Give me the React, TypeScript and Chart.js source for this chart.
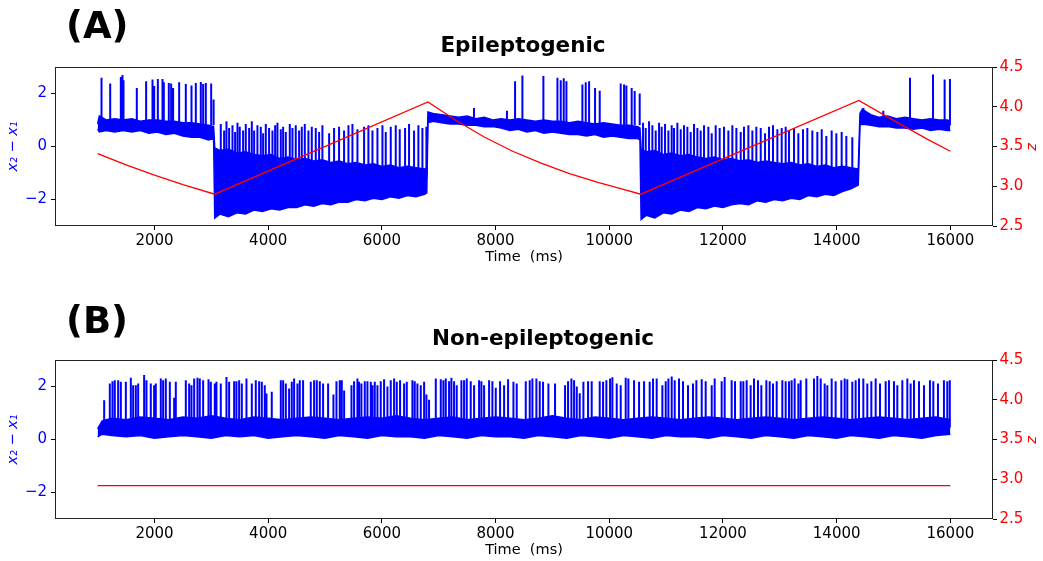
import React, { useEffect, useRef } from 'react';
import { Chart, registerables } from 'chart.js';

Chart.register(...registerables);
Chart.defaults.font.family = "'DejaVu Sans', sans-serif";

// ---------- axes ----------
const xTicks = [2000, 4000, 6000, 8000, 10000, 12000, 14000, 16000];
const yLeftTicks = [-2, 0, 2];
const yRightTicks = [2.5, 3.0, 3.5, 4.0, 4.5];

// ---------- panel A: red z trace [t, z] ----------
const zA: [number, number][] = [
  [1000, 3.41], [1500, 3.27], [2000, 3.14], [2500, 3.02], [3060, 2.9],
  [6810, 4.06], [7300, 3.83], [7800, 3.62], [8300, 3.44], [8800, 3.29], [9300, 3.16], [9800, 3.05], [10200, 2.97], [10554, 2.9],
  [14390, 4.08], [14800, 3.91], [15200, 3.75], [15600, 3.59], [16000, 3.44],
];

// ---------- panel A: noise band of x2-x1 [t, low, high] ----------
const bandA: [number, number, number][] = [
  [1000, 0.65, 0.85], [1030, 0.55, 1.15], [1150, 0.6, 1.0], [1300, 0.55, 1.05], [1450, 0.6, 1.0], [1600, 0.55, 1.05],
  [1750, 0.6, 0.95], [1900, 0.5, 1.0], [2050, 0.55, 1.0], [2200, 0.45, 0.95], [2350, 0.5, 0.95], [2500, 0.4, 0.9],
  [2650, 0.35, 0.9], [2800, 0.35, 0.85], [2950, 0.25, 0.8], [3040, 0.3, 0.75],
  [3060, -2.7, -0.05], [3150, -2.55, -0.15], [3300, -2.65, -0.1], [3450, -2.5, -0.25], [3600, -2.55, -0.2],
  [3750, -2.4, -0.3], [3900, -2.45, -0.35], [4050, -2.35, -0.3], [4200, -2.4, -0.45], [4350, -2.3, -0.4],
  [4500, -2.3, -0.5], [4650, -2.2, -0.45], [4800, -2.25, -0.55], [4950, -2.15, -0.5], [5100, -2.2, -0.6],
  [5250, -2.1, -0.55], [5400, -2.1, -0.65], [5550, -2.0, -0.6], [5700, -2.05, -0.7], [5850, -1.95, -0.65],
  [6000, -2.0, -0.75], [6150, -1.9, -0.7], [6300, -1.95, -0.8], [6450, -1.85, -0.75], [6600, -1.9, -0.8],
  [6750, -1.8, -0.85], [6790, -1.75, -0.8],
  [6810, 0.9, 1.3], [6900, 0.95, 1.25], [7050, 0.9, 1.2], [7200, 0.85, 1.15], [7350, 0.85, 1.1], [7500, 0.8, 1.15],
  [7650, 0.8, 1.05], [7800, 0.75, 1.1], [7950, 0.75, 1.0], [8100, 0.7, 1.05], [8250, 0.6, 1.0], [8400, 0.65, 1.05],
  [8550, 0.55, 1.0], [8700, 0.6, 0.95], [8850, 0.5, 1.0], [9000, 0.55, 0.95], [9150, 0.5, 0.95], [9300, 0.45, 0.9],
  [9450, 0.45, 0.95], [9600, 0.4, 0.9], [9750, 0.45, 0.85], [9900, 0.35, 0.9], [10050, 0.4, 0.85], [10200, 0.35, 0.8],
  [10350, 0.3, 0.8], [10500, 0.3, 0.75], [10540, 0.25, 0.7],
  [10560, -2.75, -0.1], [10650, -2.6, -0.2], [10800, -2.7, -0.15], [10950, -2.5, -0.3], [11100, -2.55, -0.25],
  [11250, -2.4, -0.35], [11400, -2.45, -0.3], [11550, -2.3, -0.4], [11700, -2.35, -0.45], [11850, -2.25, -0.4],
  [12000, -2.3, -0.5], [12150, -2.2, -0.45], [12300, -2.15, -0.55], [12450, -2.2, -0.5], [12600, -2.05, -0.6],
  [12750, -2.1, -0.55], [12900, -2.0, -0.6], [13050, -2.05, -0.65], [13200, -1.95, -0.6], [13350, -2.0, -0.7],
  [13500, -1.85, -0.65], [13650, -1.9, -0.75], [13800, -1.8, -0.7], [13950, -1.85, -0.8], [14100, -1.7, -0.75],
  [14250, -1.6, -0.8], [14380, -1.45, -0.85],
  [14410, 0.8, 1.25], [14450, 0.85, 1.4], [14600, 0.8, 1.2], [14750, 0.75, 1.1], [14900, 0.75, 1.15], [15050, 0.7, 1.05],
  [15200, 0.7, 1.1], [15350, 0.65, 1.05], [15500, 0.7, 1.0], [15650, 0.6, 1.05], [15800, 0.65, 1.0], [15950, 0.6, 1.0],
  [16000, 0.6, 0.95],
];

// ---------- panel A: spikes [t, peak] ----------
const footInterictal = 0.8;
const footIctal = -1.2;

const spikesA1: [number, number][] = [
  [1068, 2.59], [1221, 2.38], [1408, 2.62], [1437, 2.7], [1455, 2.5], [1689, 2.21], [1853, 2.46], [1965, 2.53],
  [1995, 2.28], [2059, 2.55], [2141, 2.55], [2164, 2.42], [2252, 2.4], [2293, 2.38], [2328, 2.21], [2434, 2.42],
  [2551, 2.36], [2651, 2.3], [2727, 2.4], [2815, 2.43], [2856, 2.36], [2903, 2.4], [2997, 2.38], [3040, 1.77],
];
const spikesA2: [number, number][] = [
  [3166, 0.85], [3225, 0.6], [3266, 0.95], [3313, 0.7], [3372, 0.8], [3418, 0.55], [3460, 0.9], [3500, 0.75],
  [3559, 0.6], [3606, 0.85], [3665, 0.7], [3712, 0.95], [3753, 0.6], [3811, 0.8], [3870, 0.75], [3911, 0.5],
  [3958, 0.85], [4016, 0.7], [4075, 0.6], [4122, 0.8], [4163, 0.9], [4222, 0.65], [4263, 0.75], [4310, 0.55],
  [4380, 0.85], [4427, 0.7], [4485, 0.8], [4544, 0.6], [4591, 0.75], [4644, 0.85], [4708, 0.6], [4767, 0.75],
  [4837, 0.7], [4896, 0.55], [4954, 0.8], [5072, 0.5], [5159, 0.7], [5247, 0.75], [5335, 0.6], [5412, 0.8],
  [5482, 0.85], [5570, 0.65], [5687, 0.75], [5763, 0.8], [5834, 0.6], [5922, 0.7], [6010, 0.8], [6068, 0.55],
  [6156, 0.75], [6244, 0.8], [6314, 0.65], [6408, 0.7], [6478, 0.85], [6566, 0.6], [6642, 0.8], [6713, 0.7],
  [6783, 0.75],
];
const spikesA3: [number, number][] = [
  [7620, 1.45], [8200, 1.35], [8343, 2.46], [8472, 2.68], [8841, 2.66], [9088, 2.59], [9146, 2.5], [9199, 2.58],
  [9246, 2.46], [9527, 2.34], [9586, 2.42], [9645, 2.46], [9750, 2.21], [9832, 2.1], [10201, 2.38], [10260, 2.34],
  [10301, 2.3], [10394, 2.21], [10447, 2.09], [10535, 2.0],
];
const spikesA4: [number, number][] = [
  [10594, 0.9], [10641, 0.7], [10700, 0.95], [10758, 0.8], [10817, 0.6], [10876, 0.9], [10922, 0.75], [10981, 0.85],
  [11040, 0.6], [11098, 0.8], [11139, 0.7], [11198, 0.9], [11257, 0.65], [11315, 0.8], [11374, 0.75], [11432, 0.55],
  [11491, 0.85], [11550, 0.7], [11608, 0.6], [11667, 0.8], [11743, 0.75], [11802, 0.5], [11872, 0.8], [11942, 0.7],
  [12019, 0.75], [12095, 0.6], [12165, 0.8], [12236, 0.7], [12312, 0.55], [12370, 0.75], [12447, 0.8], [12517, 0.6],
  [12587, 0.75], [12664, 0.7], [12740, 0.5], [12810, 0.75], [12880, 0.8], [12957, 0.65], [13033, 0.7], [13103, 0.75],
  [13162, 0.6], [13250, 0.7], [13326, 0.5], [13408, 0.65], [13484, 0.7], [13572, 0.6], [13660, 0.55], [13737, 0.65],
  [13818, 0.4], [13912, 0.6], [13994, 0.5], [14088, 0.55], [14170, 0.4], [14275, 0.35],
];
const spikesA5: [number, number][] = [
  [14470, 1.45], [14820, 1.35], [15290, 2.59], [15695, 2.72], [15899, 2.53], [15993, 2.55],
];

// ---------- panel B ----------
const zB: [number, number][] = [[1000, 2.92], [16000, 2.92]];

const bandB: [number, number, number][] = [
  [1000, 0.1, 0.4], [1080, 0.2, 0.7], [1250, 0.15, 0.8], [1500, 0.1, 0.75], [1750, 0.15, 0.85], [2000, 0.05, 0.8],
  [2250, 0.1, 0.75], [2500, 0.15, 0.85], [2750, 0.1, 0.8], [3000, 0.05, 0.9], [3250, 0.15, 0.8], [3500, 0.1, 0.75],
  [3750, 0.15, 0.85], [4000, 0.05, 0.8], [4250, 0.1, 0.75], [4500, 0.15, 0.8], [4750, 0.1, 0.85], [5000, 0.05, 0.8],
  [5250, 0.15, 0.75], [5500, 0.1, 0.8], [5750, 0.05, 0.85], [6000, 0.15, 0.8], [6250, 0.1, 0.9], [6500, 0.1, 0.8],
  [6750, 0.05, 0.75], [7000, 0.15, 0.8], [7250, 0.1, 0.85], [7500, 0.05, 0.75], [7750, 0.15, 0.8], [8000, 0.1, 0.85],
  [8250, 0.1, 0.8], [8500, 0.05, 0.75], [8750, 0.15, 0.8], [9000, 0.1, 0.9], [9250, 0.05, 0.8], [9500, 0.15, 0.75],
  [9750, 0.1, 0.85], [10000, 0.05, 0.8], [10250, 0.15, 0.75], [10500, 0.1, 0.8], [10750, 0.05, 0.85], [11000, 0.15, 0.8],
  [11250, 0.1, 0.75], [11500, 0.1, 0.8], [11750, 0.05, 0.85], [12000, 0.15, 0.8], [12250, 0.1, 0.75], [12500, 0.05, 0.8],
  [12750, 0.15, 0.85], [13000, 0.1, 0.8], [13250, 0.05, 0.75], [13500, 0.15, 0.8], [13750, 0.1, 0.85], [14000, 0.05, 0.8],
  [14250, 0.15, 0.75], [14500, 0.1, 0.8], [14750, 0.05, 0.85], [15000, 0.15, 0.8], [15250, 0.1, 0.75], [15500, 0.05, 0.8],
  [15750, 0.15, 0.85], [16000, 0.2, 0.75],
];

const footB = 0.45;
const spikesB: [number, number][] = [
  [1115, 1.48], [1214, 2.11], [1261, 2.2], [1302, 2.24], [1361, 2.24], [1408, 2.18], [1496, 2.18], [1584, 2.33],
  [1625, 2.05], [1672, 2.05], [1713, 2.11], [1818, 2.43], [1859, 2.24], [1935, 2.11], [1994, 2.05], [2023, 2.11],
  [2111, 2.3], [2152, 2.24], [2199, 2.3], [2270, 2.18], [2346, 1.58], [2375, 2.18], [2551, 2.24], [2610, 2.11],
  [2651, 2.05], [2698, 2.3], [2756, 2.33], [2797, 2.3], [2856, 2.24], [2950, 2.27], [2991, 2.18], [3061, 2.11],
  [3090, 2.18], [3166, 2.11], [3266, 2.36], [3313, 2.18], [3401, 2.2], [3442, 2.2], [3489, 2.24], [3536, 2.11],
  [3618, 2.3], [3712, 2.11], [3782, 2.24], [3841, 2.2], [3888, 2.18], [3940, 2.05], [3970, 1.74], [4063, 1.8],
  [4222, 2.24], [4263, 2.24], [4310, 2.11], [4368, 1.92], [4415, 2.18], [4456, 2.3], [4515, 2.11], [4556, 2.24],
  [4614, 2.24], [4749, 2.18],
  [4808, 2.24], [4855, 2.24], [4908, 2.2], [4966, 2.11], [5054, 2.11], [5148, 1.7], [5201, 2.2], [5259, 2.24],
  [5295, 2.24], [5336, 1.85], [5465, 2.05], [5511, 2.2], [5570, 2.3], [5599, 2.18], [5640, 2.11], [5699, 2.2],
  [5746, 2.2], [5805, 2.18], [5834, 2.05], [5875, 2.18], [5922, 2.05], [5980, 2.2], [6039, 2.27], [6098, 2.0],
  [6156, 2.24], [6215, 2.3], [6262, 2.18], [6320, 2.24], [6391, 2.11], [6438, 2.18], [6537, 2.24], [6578, 2.2],
  [6625, 2.11], [6684, 2.05], [6743, 2.18], [6784, 1.7], [6830, 1.5], [6948, 2.3], [7036, 2.27], [7082, 2.24],
  [7124, 2.3], [7182, 2.2], [7223, 2.33], [7270, 2.2], [7317, 2.05], [7399, 2.24], [7446, 2.24], [7493, 2.3],
  [7563, 2.2], [7622, 2.05], [7710, 2.24], [7751, 2.2], [7798, 2.05], [7886, 2.24], [7944, 2.2], [8003, 1.95],
  [8079, 2.2], [8150, 2.05], [8220, 2.27], [8314, 2.18], [8372, 2.11], [8531, 2.2],
  [8601, 2.24], [8648, 2.3], [8718, 2.3], [8777, 2.2], [8835, 2.18], [8929, 2.11], [9046, 2.11], [9222, 2.05],
  [9275, 2.2], [9334, 2.3], [9381, 2.24], [9428, 2.0], [9480, 1.75], [9545, 2.18], [9627, 2.2], [9691, 2.2],
  [9832, 2.2], [9891, 2.18], [9949, 2.24], [10014, 2.3], [10055, 2.35], [10131, 2.11], [10201, 2.05], [10289, 2.33],
  [10336, 2.3], [10436, 2.24], [10524, 2.18], [10612, 2.2], [10711, 2.18], [10770, 2.3], [10834, 2.3], [10934, 2.05],
  [10993, 2.2], [11040, 2.3], [11098, 2.38], [11151, 2.24], [11227, 2.3], [11297, 2.2], [11385, 2.05], [11473, 2.11],
  [11532, 2.24], [11626, 2.27], [11696, 2.2], [11802, 2.05], [11854, 2.3], [11977, 2.2], [12030, 2.36], [12153, 2.24],
  [12212, 2.2], [12312, 2.2],
  [12358, 2.2], [12417, 2.24], [12487, 2.05], [12546, 2.3], [12616, 2.24], [12675, 2.05], [12763, 2.24], [12822, 2.2],
  [12880, 2.11], [12945, 2.2], [13044, 2.24], [13103, 2.2], [13162, 2.2], [13208, 2.24], [13261, 2.3], [13326, 2.11],
  [13367, 2.24], [13466, 2.3], [13601, 2.3], [13660, 2.4], [13719, 2.3], [13789, 2.11], [13836, 2.05], [13912, 2.3],
  [13982, 2.2], [14082, 2.24], [14141, 2.3], [14187, 2.27], [14275, 2.18], [14334, 2.24], [14393, 2.3], [14469, 2.3],
  [14539, 2.11], [14610, 2.2], [14686, 2.3], [14762, 2.11], [14862, 2.2], [14920, 2.24], [15008, 2.2], [15067, 2.05],
  [15155, 2.24], [15243, 2.3], [15301, 2.11], [15360, 2.24], [15448, 2.2], [15536, 2.05], [15641, 2.24], [15700, 2.2],
  [15782, 2.11], [15887, 2.24], [15946, 2.2], [15990, 2.24],
];

// ---------- helpers ----------
const BLUE = '#0000ff';
const RED = '#ff0000';

type Pt = { x: number; y: number | null };

function spikePoints(groups: [[number, number][], number][]): Pt[] {
  const pts: Pt[] = [];
  for (const [list, foot] of groups) {
    for (const [t, p] of list) {
      pts.push({ x: t, y: foot }, { x: t, y: p }, { x: t, y: null });
    }
  }
  return pts;
}

const framePlugin = {
  id: 'frame',
  afterDraw(chart: any) {
    const { ctx, chartArea } = chart;
    const l = Math.round(chartArea.left) + 0.5;
    const t = Math.round(chartArea.top) + 0.5;
    const r = Math.round(chartArea.right) - 0.5;
    const b = Math.round(chartArea.bottom) - 0.5;
    ctx.save();
    ctx.strokeStyle = '#222';
    ctx.lineWidth = 1;
    ctx.strokeRect(l, t, r - l, b - t);
    ctx.restore();
  },
};

const panelTextPlugin = {
  id: 'panelText',
  afterDraw(chart: any, _args: any, opts: any) {
    if (!opts) return;
    const { ctx } = chart;
    ctx.save();
    ctx.fillStyle = '#000';
    ctx.textBaseline = 'alphabetic';
    ctx.font = "bold 37px 'DejaVu Sans'";
    ctx.textAlign = 'left';
    ctx.fillText(opts.label, opts.labelX, opts.labelY);
    ctx.font = "bold 21.5px 'DejaVu Sans'";
    ctx.textAlign = 'center';
    ctx.fillText(opts.title, opts.titleX, opts.titleY);
    ctx.restore();
  },
};

interface PanelSpec {
  title: string;
  titleX: number;
  label: string;
  labelY: number;
  z: [number, number][];
  band: [number, number, number][];
  spikes: [[number, number][], number][];
}

function buildConfig(p: PanelSpec): any {
  return {
    type: 'line',
    data: {
      datasets: [
        {
          data: p.z.map(([x, y]) => ({ x, y })),
          yAxisID: 'yR',
          borderColor: RED,
          borderWidth: 1.3,
          pointRadius: 0,
          fill: false,
          order: 0,
        },
        {
          data: spikePoints(p.spikes),
          yAxisID: 'y',
          borderColor: BLUE,
          borderWidth: 2,
          pointRadius: 0,
          spanGaps: false,
          fill: false,
          order: 1,
        },
        {
          data: p.band.map(([x, , hi]) => ({ x, y: hi })),
          yAxisID: 'y',
          borderColor: BLUE,
          backgroundColor: BLUE,
          borderWidth: 1.5,
          pointRadius: 0,
          fill: '+1',
          order: 2,
        },
        {
          data: p.band.map(([x, lo]) => ({ x, y: lo })),
          yAxisID: 'y',
          borderColor: BLUE,
          borderWidth: 1.5,
          pointRadius: 0,
          fill: false,
          order: 3,
        },
      ],
    },
    options: {
      responsive: false,
      maintainAspectRatio: false,
      animation: false,
      events: [],
      layout: { padding: { top: 67, left: 0, right: 0, bottom: 0 } },
      plugins: {
        legend: { display: false },
        tooltip: { enabled: false },
        title: { display: false },
        panelText: {
          label: p.label,
          labelX: 66,
          labelY: p.labelY,
          title: p.title,
          titleX: p.titleX,
          titleY: 51.5,
        },
      },
      scales: {
        x: {
          type: 'linear',
          min: 250,
          max: 16750,
          afterBuildTicks: (s: any) => {
            s.ticks = xTicks.map((v) => ({ value: v }));
          },
          afterFit: (s: any) => {
            s.height = 54;
          },
          ticks: {
            color: '#000',
            font: { size: 15 },
            maxRotation: 0,
            autoSkip: false,
            padding: 2,
            callback: (v: any) => String(v),
          },
          grid: { drawOnChartArea: false, drawTicks: true, tickLength: 4, tickColor: '#000' },
          border: { display: false },
          title: {
            display: true,
            text: 'Time  (ms)',
            color: '#000',
            font: { size: 14.5 },
            padding: { top: 0, bottom: 14 },
          },
        },
        y: {
          type: 'linear',
          position: 'left',
          min: -3,
          max: 3,
          afterBuildTicks: (s: any) => {
            s.ticks = yLeftTicks.map((v) => ({ value: v }));
          },
          afterFit: (s: any) => {
            s.width = 55;
          },
          ticks: {
            color: BLUE,
            font: { size: 15 },
            padding: 4,
            callback: (v: any) => (v < 0 ? '\u2212' + Math.abs(v) : String(v)),
          },
          grid: { drawOnChartArea: false, drawTicks: true, tickLength: 4, tickColor: '#000' },
          border: { display: false },
          title: {
            display: true,
            text: 'x\u2082 \u2212 x\u2081',
            color: BLUE,
            font: { size: 14.5, style: 'italic' },
            padding: { top: 4.8, bottom: 0 },
          },
        },
        yR: {
          type: 'linear',
          position: 'right',
          min: 2.5,
          max: 4.5,
          afterBuildTicks: (s: any) => {
            s.ticks = yRightTicks.map((v) => ({ value: v }));
          },
          afterFit: (s: any) => {
            s.width = 50;
          },
          ticks: {
            color: RED,
            font: { size: 15 },
            padding: 2.5,
            callback: (v: any) => Number(v).toFixed(1),
          },
          grid: { drawOnChartArea: false, drawTicks: true, tickLength: 4, tickColor: '#000' },
          border: { display: false },
          title: {
            display: true,
            text: 'z',
            color: RED,
            font: { size: 14.5, style: 'italic' },
            padding: { top: 2.8, bottom: 0 },
          },
        },
      },
    },
    plugins: [framePlugin, panelTextPlugin],
  };
}

const panelA: PanelSpec = {
  title: 'Epileptogenic',
  titleX: 523,
  label: '(A)',
  labelY: 38,
  z: zA,
  band: bandA,
  spikes: [
    [spikesA1, footInterictal],
    [spikesA2, footIctal],
    [spikesA3, footInterictal],
    [spikesA4, footIctal],
    [spikesA5, footInterictal],
  ],
};

const panelB: PanelSpec = {
  title: 'Non-epileptogenic',
  titleX: 543,
  label: '(B)',
  labelY: 40,
  z: zB,
  band: bandB,
  spikes: [[spikesB, footB]],
};

function Panel({ spec, top }: { spec: PanelSpec; top: number }) {
  const ref = useRef<HTMLCanvasElement | null>(null);
  useEffect(() => {
    if (!ref.current) return;
    const chart = new Chart(ref.current, buildConfig(spec));
    return () => chart.destroy();
  }, [spec]);
  return (
    <canvas
      ref={ref}
      width={1043}
      height={280}
      style={{ position: 'absolute', left: 0, top, width: 1043, height: 280 }}
    />
  );
}

export default function App() {
  return (
    <div
      style={{
        position: 'absolute',
        left: 0,
        top: 0,
        width: 1043,
        height: 561,
        overflow: 'hidden',
        background: '#fff',
      }}
    >
      <Panel spec={panelA} top={0} />
      <Panel spec={panelB} top={293} />
    </div>
  );
}
